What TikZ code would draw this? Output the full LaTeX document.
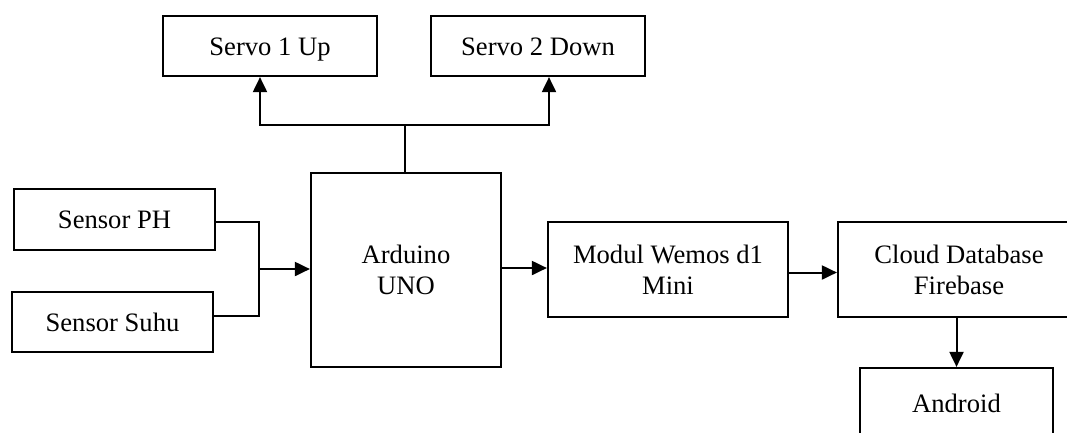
\documentclass[tikz,border=0pt]{standalone}
\usepackage{fontspec}
\setmainfont{Liberation Serif}
\usetikzlibrary{arrows.meta,calc}
\begin{document}
\begin{tikzpicture}[x=1pt,y=1pt,
  blk/.style={draw=black,line width=2.2pt,fill=white,align=center,inner sep=0pt,
    font=\fontsize{26.6}{31}\selectfont},
  one/.style={text height=18pt,text depth=0pt},
  conn/.style={line width=2pt},
  arr/.style={line width=2pt,-{Triangle[length=15pt,width=14pt]}}]
\useasboundingbox (0,0) rectangle (1067,-432);
\clip (0,0) rectangle (1067,-432);
\fill[white] (0,0) rectangle (1067,-432);
\node[blk,one,minimum width=214pt,minimum height=60pt] (s1) at (270,-46) {Servo 1 Up};
\node[blk,one,minimum width=214pt,minimum height=60pt] (s2) at (538,-46) {Servo 2 Down};
\node[blk,one,minimum width=201pt,minimum height=61pt] (ph) at (114.5,-219.5) {Sensor PH};
\node[blk,one,minimum width=201pt,minimum height=60pt] (suhu) at (112.5,-322) {Sensor Suhu};
\node[blk,minimum width=190pt,minimum height=194pt] (ard) at (406,-270) {Arduino\\UNO};
\node[blk,minimum width=240pt,minimum height=95pt] (wem) at (668,-269.5) {Modul Wemos d1\\Mini};
\node[blk,minimum width=242pt,minimum height=95pt] (cld) at (959,-269.5) {Cloud Database\\Firebase};
\node[blk,one,minimum width=193pt,minimum height=70pt] (and) at (956.5,-403) {Android};
\coordinate (jx) at (259,-269);
\coordinate (bt) at (405,-125);
% sensors to arduino
\draw[conn] ([yshift=-2pt]ph.east) -| (jx);
\draw[conn] ([yshift=6pt]suhu.east) -| (jx);
\draw[arr] (jx) -- (jx -| ard.west);
% arduino to servos
\draw[conn] (ard.north -| bt) -- (bt);
\draw[arr] (bt) -| ([xshift=-10pt]s1.south);
\draw[arr] (bt) -| ([xshift=11pt]s2.south);
% chain
\draw[arr] ([yshift=2pt]ard.east) -- ([yshift=2pt]ard.east -| wem.west);
\draw[arr] ([yshift=-3pt]wem.east) -- ([yshift=-3pt]wem.east -| cld.west);
\draw[arr] (cld.south -| and.north) -- (and.north);
\end{tikzpicture}
\end{document}
